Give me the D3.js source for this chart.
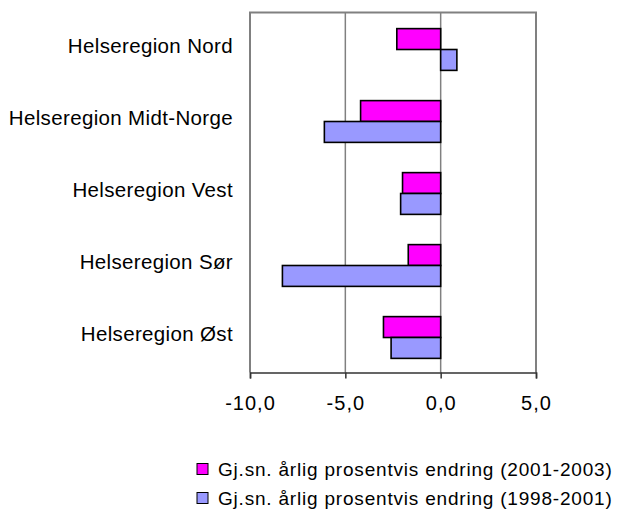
<!DOCTYPE html>
<html>
<head>
<meta charset="utf-8">
<script src="https://cdn.jsdelivr.net/npm/d3@7"></script>
<style>
  body { margin: 0; background: #fff; }
  svg { display: block; font-family: "Liberation Sans", Arial, sans-serif; }
</style>
</head>
<body>
<div id="chart"></div>
<script>
// data
const regions = ["Helseregion Nord", "Helseregion Midt-Norge", "Helseregion Vest", "Helseregion Sør", "Helseregion Øst"];
const change2001_2003 = [-2.3, -4.2, -2.0, -1.7, -3.0];
const change1998_2001 = [0.85, -6.1, -2.1, -8.3, -2.6];
const seriesNames = ["Gj.sn. årlig prosentvis endring (2001-2003)", "Gj.sn. årlig prosentvis endring (1998-2001)"];
const seriesColors = ["#FF00FF", "#9999FF"];
const xTicks = [-10, -5, 0, 5];

const width = 632, height = 515;
const plot = {left: 250, right: 536, top: 12.5, bottom: 372.5};

const svg = d3.select("#chart").append("svg")
  .attr("width", width)
  .attr("height", height);

const xScale = d3.scaleLinear().domain([-10, 5]).range([plot.left, plot.right]);
const yScale = d3.scaleBand().domain(regions).range([plot.top, plot.bottom]);
const barH = yScale.bandwidth() * 0.29;

// gridlines
svg.selectAll(".grid")
  .data(xTicks.slice(1, -1))
  .enter().append("line")
    .attr("x1", d => xScale(d)).attr("x2", d => xScale(d))
    .attr("y1", plot.top).attr("y2", plot.bottom)
    .style("stroke", "#808080").style("stroke-width", "1.5px");

// plot frame (top, left, right)
svg.append("path")
  .attr("d", "M" + plot.left + "," + plot.bottom + "V" + plot.top + "H" + plot.right + "V" + plot.bottom)
  .style("fill", "none").style("stroke", "#808080").style("stroke-width", "2px");

// bars
const series = [change2001_2003, change1998_2001];
series.forEach(function(vals, s) {
  svg.selectAll(".bar" + s)
    .data(vals)
    .enter().append("rect")
      .attr("x", d => xScale(Math.min(0, d)))
      .attr("width", d => Math.abs(xScale(d) - xScale(0)))
      .attr("y", (d, i) => yScale(regions[i]) + yScale.bandwidth() / 2 + 1 - barH + s * barH)
      .attr("height", barH)
      .style("fill", seriesColors[s])
      .style("stroke", "#000")
      .style("stroke-width", "1.6px");
});

// x axis
const x_axis = d3.axisBottom(xScale)
  .tickValues(xTicks)
  .tickSize(6)
  .tickPadding(17)
  .tickFormat(d => d3.format(".1f")(d).replace(".", ",").replace("−", "-"));

const axG = svg.append("g")
  .attr("transform", "translate(0," + plot.bottom + ")")
  .call(x_axis);
axG.select(".domain").style("stroke", "#333").style("stroke-width", "1.5px");
axG.selectAll(".tick line").style("stroke", "#333").style("stroke-width", "1.5px");
axG.selectAll("text")
  .style("font-size", "20px")
  .style("letter-spacing", "1px")
  .style("font-family", "Liberation Sans, Arial, sans-serif")
  .style("fill", "#000");

// category labels
svg.selectAll(".cat")
  .data(regions)
  .enter().append("text")
    .attr("x", 233)
    .attr("y", d => yScale(d) + yScale.bandwidth() / 2 + 4.5)
    .attr("text-anchor", "end")
    .style("font-size", "20.5px")
    .style("letter-spacing", "0.35px")
    .style("fill", "#000")
    .text(d => d);

// legend
const legend = svg.selectAll(".legend")
  .data(seriesNames)
  .enter().append("g")
    .attr("transform", (d, i) => "translate(197," + (463.5 + i * 29) + ")");

legend.append("rect")
  .attr("width", 11).attr("height", 11)
  .style("fill", (d, i) => seriesColors[i])
  .style("stroke", "#000").style("stroke-width", "1px");

legend.append("text")
  .attr("x", 21).attr("y", 12)
  .style("font-size", "19px")
  .style("letter-spacing", "0.8px")
  .style("fill", "#000")
  .text(d => d);
</script>
</body>
</html>
